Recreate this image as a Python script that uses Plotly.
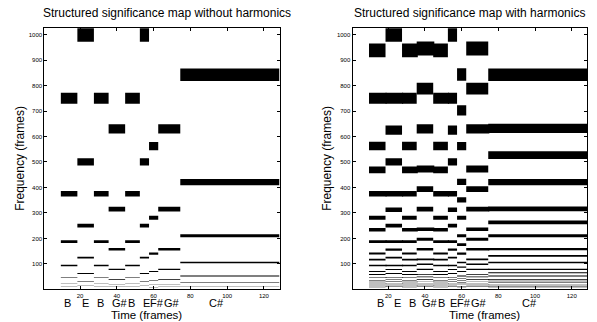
import plotly.graph_objects as go

# ---- data ----
seg_notes = ["B", "E", "B", "G#", "B", "E", "F#", "G#", "C#"]
seg_start = [9.5, 18.5, 27.5, 35.5, 44.5, 52.5, 57.5, 62.5, 74.5]
seg_end = [18.5, 27.5, 35.5, 44.5, 52.5, 57.5, 62.5, 74.5, 128.5]
note_freq = {"B": 750, "E": 1000, "G#": 630, "F#": 562, "C#": 842}

mult_without = [1.0]
mult_with = [1.0, 1.5, 1.25]
octaves = [0, 1, 2, 3, 4, 5, 6, 7]
band_ratio = 2 ** (1 / 24)
f_max = 1024

x_ticks = [20, 40, 60, 80, 100, 120]
y_ticks = [100, 200, 300, 400, 500, 600, 700, 800, 900, 1000]

left_note_x = [13.1, 22.7, 31.2, 41.7, 48.1, 56.2, 62.0, 69.8, 94.3]
right_note_x = [15.5, 24.9, 33.1, 42.7, 49.1, 55.4, 61.3, 69.6, 97.2]

titles = ["Structured significance map without harmonics",
          "Structured significance map with harmonics"]


def bands(note, mults):
    out = []
    for m in mults:
        for n in octaves:
            f = note_freq[note] * m / 2 ** n
            if f <= f_max and f >= 8:
                out.append(f)
    return out


def make_bars(mults):
    seg_bands = [bands(n, mults) for n in seg_notes]
    xs, ws, bs, hs = [], [], [], []
    for i, fl in enumerate(seg_bands):
        nxt = seg_bands[i + 1] if i + 1 < len(seg_bands) else []
        for f in fl:
            lo, hi = f / band_ratio, f * band_ratio
            x0, x1 = seg_start[i], seg_end[i]
            # continue into next segment slightly if an overlapping band exists (avoids seams)
            if any(abs(g - f) / f < 0.02 for g in nxt):
                x1 += 0.6
            xs.append((x0 + x1) / 2)
            ws.append(x1 - x0)
            bs.append(lo)
            hs.append(hi - lo)
    return xs, ws, bs, hs


fig = go.Figure()
for k, mults in enumerate([mult_without, mult_with]):
    xs, ws, bs, hs = make_bars(mults)
    fig.add_trace(go.Bar(x=xs, y=hs, base=bs, width=ws,
                         marker=dict(color="black", line=dict(width=0)),
                         xaxis="x" if k == 0 else "x2",
                         yaxis="y" if k == 0 else "y2",
                         showlegend=False, hoverinfo="skip"))

W, H = 597, 322
ydom = [1 - 289.3 / H, 1 - 28.3 / H]
xd1 = [44.3 / W, 279.5 / W]
xd2 = [352.5 / W, 587.3 / W]

axcommon = dict(ticks="inside", ticklen=3, tickcolor="black", tickwidth=1,
                showline=True, linecolor="black", linewidth=1, mirror="ticks",
                showgrid=False, zeroline=False,
                tickfont=dict(size=6, color="black", family="Liberation Sans"))

fig.update_layout(
    width=W, height=H,
    margin=dict(l=0, r=0, t=0, b=0),
    paper_bgcolor="white", plot_bgcolor="white",
    barmode="overlay",
    xaxis=dict(domain=xd1, range=[0.5, 128.5], tickvals=x_ticks, anchor="y", **axcommon),
    yaxis=dict(domain=ydom, range=[0.5, 1024.5], tickvals=y_ticks, anchor="x", **axcommon),
    xaxis2=dict(domain=xd2, range=[0.5, 128.5], tickvals=x_ticks, anchor="y2", **axcommon),
    yaxis2=dict(domain=ydom, range=[0.5, 1024.5], tickvals=y_ticks, anchor="x2", **axcommon),
    font=dict(family="Liberation Sans", color="black"),
)

ann = []
# titles
for cx, t in zip([166.5, 469.0], titles):
    ann.append(dict(text=t, x=cx / W, y=1 - 13 / H, xref="paper", yref="paper",
                    showarrow=False, xanchor="center", yanchor="middle",
                    font=dict(size=12, family="Liberation Sans", color="black")))
# y labels
for cx in [20, 327]:
    ann.append(dict(text="Frequency (frames)", x=cx / W, y=1 - 158.8 / H,
                    xref="paper", yref="paper", textangle=-90, showarrow=False,
                    xanchor="center", yanchor="middle",
                    font=dict(size=12, family="Liberation Sans", color="black")))
# x labels
for cx in [146.0, 484.0]:
    ann.append(dict(text="Time (frames)", x=cx / W, y=1 - 314.5 / H,
                    xref="paper", yref="paper", showarrow=False,
                    xanchor="center", yanchor="middle",
                    font=dict(size=11.5, family="Liberation Sans", color="black")))
# note labels
for xr, pos in [("x", left_note_x), ("x2", right_note_x)]:
    for nm, px in zip(seg_notes, pos):
        ann.append(dict(text=nm, x=px, y=1 - 302.5 / H, xref=xr, yref="paper",
                        showarrow=False, xanchor="center", yanchor="middle",
                        font=dict(size=11, family="Liberation Sans", color="black")))
fig.update_layout(annotations=ann)

fig.write_html("out.html", config={"staticPlot": True})
